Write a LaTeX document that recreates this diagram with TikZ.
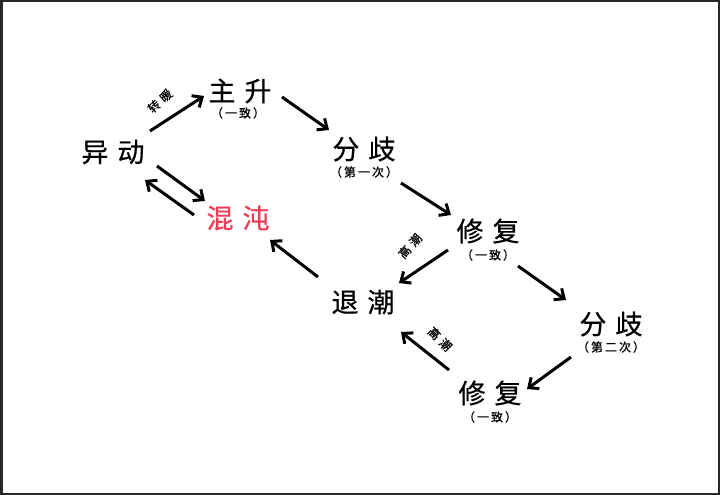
\documentclass[tikz,border=0pt]{standalone}
\usepackage{fontspec}
\newfontfamily\cjk[FakeBold=0.6]{Noto Sans CJK SC}
\usetikzlibrary{arrows.meta}
\definecolor{chaos}{RGB}{240,60,85}
\definecolor{frame}{RGB}{40,40,40}
\tikzset{
  mainlbl/.style={font=\cjk\fontsize{27}{30}\selectfont, inner sep=0pt},
  sublbl/.style={font=\cjk\fontsize{12}{14}\selectfont, inner sep=0pt},
  edgelbl/.style={font=\cjk\fontsize{12}{14}\selectfont, inner sep=0pt},
  flow/.style={line width=3pt, -{Straight Barb[length=8pt,width=14pt,line width=3pt]}},
}
\newcommand{\gap}{\hspace{9pt}}
\newcommand{\sgap}{\hspace{2pt}}
\begin{document}
\begin{tikzpicture}[x=1pt,y=-1pt]
\fill[white] (0,0) rectangle (720,495);
\draw[frame, line width=2.5pt] (1.25,1.25) rectangle (718.75,493.75);
\useasboundingbox (0,0) rectangle (720,495);

% nodes
\node[mainlbl] (yd) at (113,152) {异\gap 动};
\node[mainlbl] (zs) at (240,91) {主\gap 升};
\node[sublbl] (zss) at (238,113) {（\sgap 一\sgap 致\sgap ）};
\node[mainlbl] (fq1) at (364,149) {分\gap 歧};
\node[sublbl] (fq1s) at (364,172) {（\sgap 第\sgap 一\sgap 次\sgap ）};
\node[mainlbl] (xf1) at (488,231) {修\gap 复};
\node[sublbl] (xf1s) at (488,255) {（\sgap 一\sgap 致\sgap ）};
\node[mainlbl] (tc) at (363,302) {退\gap 潮};
\node[mainlbl, text=chaos] (hd) at (238,218) {混\gap 沌};
\node[mainlbl] (fq2) at (611,324) {分\gap 歧};
\node[sublbl] (fq2s) at (611,347) {（\sgap 第\sgap 二\sgap 次\sgap ）};
\node[mainlbl] (xf2) at (490,393) {修\gap 复};
\node[sublbl] (xf2s) at (490,417) {（\sgap 一\sgap 致\sgap ）};

% connector anchors
\coordinate (a1s) at (150,131); \coordinate (a1e) at (204,96);
\coordinate (a2s) at (282,97);  \coordinate (a2e) at (329,130);
\coordinate (a3s) at (401,183); \coordinate (a3e) at (451,215);
\coordinate (a4s) at (448,250); \coordinate (a4e) at (399,283);
\coordinate (a5s) at (518,266); \coordinate (a5e) at (566,300);
\coordinate (a6s) at (571,357); \coordinate (a6e) at (527,389);
\coordinate (a7s) at (449,370); \coordinate (a7e) at (401,332);
\coordinate (a8s) at (318,277); \coordinate (a8e) at (270,240);
\coordinate (a9s) at (157,166); \coordinate (a9e) at (205,201);
\coordinate (a10s) at (194,215); \coordinate (a10e) at (145,180);

\draw[flow] (a1s) -- (a1e);
\draw[flow] (a2s) -- (a2e);
\draw[flow] (a3s) -- (a3e);
\draw[flow] (a4s) -- (a4e);
\draw[flow] (a5s) -- (a5e);
\draw[flow] (a6s) -- (a6e);
\draw[flow] (a7s) -- (a7e);
\draw[flow] (a8s) -- (a8e);
\draw[flow] (a9s) -- (a9e);
\draw[flow] (a10s) -- (a10e);

% edge labels
\node[edgelbl, rotate=42] (l1) at (160,101) {转\hspace{4pt}暖};
\node[edgelbl, rotate=48] (l2) at (410,246) {高\hspace{4pt}潮};
\node[edgelbl, rotate=-45] (l3) at (440,339) {高\hspace{4pt}潮};
\end{tikzpicture}
\end{document}
